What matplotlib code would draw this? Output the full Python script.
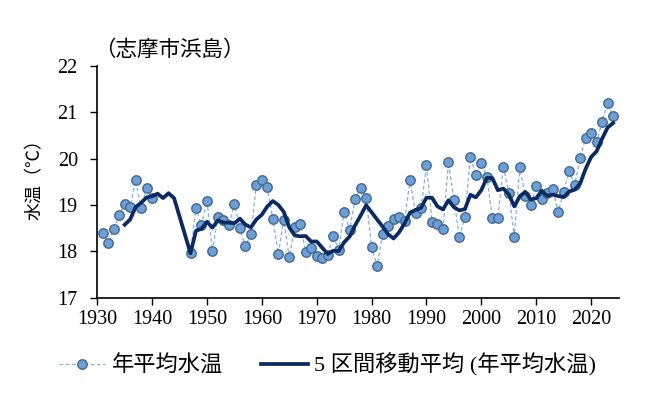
import numpy as np
import pandas as pd
import matplotlib
matplotlib.use("Agg")
import matplotlib.pyplot as plt
from matplotlib.lines import Line2D

plt.rcParams["font.family"] = ["Liberation Serif", "Noto Sans CJK JP"]

# 年平均水温 (志摩市浜島), 1941-1946 欠測
years = list(range(1931, 2025))
temps = [
    18.39, 18.19, 18.48, 18.78, 19.03, 18.96, 19.53, 18.94, 19.36, 19.15,
    np.nan, np.nan, np.nan, np.nan, np.nan, np.nan,
    17.96, 18.93, 18.57, 19.09, 18.01, 18.75, 18.68, 18.57, 19.03, 18.50,
    18.11, 18.37, 19.43, 19.55, 19.39, 18.69, 17.95, 18.68, 17.87, 18.53,
    18.59, 17.98, 18.08, 17.89, 17.85, 17.92, 18.33, 18.04, 18.85, 18.46,
    19.14, 19.37, 19.16, 18.09, 17.68, 18.38, 18.54, 18.70, 18.75, 18.65,
    19.54, 18.82, 18.93, 19.86, 18.64, 18.60, 18.49, 19.92, 19.11, 18.30,
    18.74, 20.03, 19.65, 19.90, 19.61, 18.72, 18.72, 19.83, 19.26, 18.32,
    19.81, 19.20, 19.00, 19.41, 19.12, 19.25, 19.34, 18.85, 19.29, 19.73,
    19.44, 20.01, 20.44, 20.56, 20.35, 20.80, 21.21, 20.93,
]
xticks = list(range(1930, 2021, 10))
yticks = [17, 18, 19, 20, 21, 22]

s = pd.Series(temps, index=years)
# 5区間移動平均 (Excel同様、欠測は除いて平均)
ma = s.rolling(5, min_periods=1).mean()
ma[ma.index < years[4]] = np.nan
ma = ma.dropna()

fig = plt.figure(figsize=(6.55, 3.93), dpi=100)
ax = fig.add_axes([0.1484, 0.2425, 0.796, 0.5895])

ax.plot(s.index, s.values, ls=(0, (3, 2)), lw=0.9, color="#86aedc",
        marker="o", ms=6.8, mfc="#6d9fd6", mec="#42698f", mew=1.0, zorder=2)
ax.plot(ma.index, ma.values, color="#0c2a62", lw=2.7, zorder=3)

ax.set_xlim(1930, 2025)
ax.set_ylim(17, 22)
ax.set_xticks(xticks)
ax.set_yticks(yticks)
ax.tick_params(direction="out", length=5, width=1, labelsize=14.5)
ax.tick_params(axis="y", pad=9)
ax.tick_params(axis="x", pad=4)
for side in ["top", "right"]:
    ax.spines[side].set_visible(False)
for side in ["left", "bottom"]:
    ax.spines[side].set_linewidth(1.2)

ax.set_ylabel("水温（℃）", fontsize=13, family="Noto Sans CJK JP")
ax.yaxis.set_label_coords(-0.103, 0.53)

fig.text(0.143, 0.872, "（志摩市浜島）", fontsize=15.5, family="Noto Sans CJK JP",
         va="center", ha="left")

handles = [
    Line2D([], [], ls=(0, (3, 2)), lw=0.9, color="#86aedc", marker="o", ms=6.8,
           mfc="#6d9fd6", mec="#42698f", mew=1.0),
    Line2D([], [], color="#0c2a62", lw=2.7),
]
labels = ["年平均水温", "5 区間移動平均 (年平均水温)"]
fig.legend(handles, labels, loc="center", bbox_to_anchor=(0.5, 0.072), ncol=2,
           frameon=False, fontsize=16, handlelength=2.1, handletextpad=0.3,
           columnspacing=1.7)

fig.savefig("out.png", dpi=100)
